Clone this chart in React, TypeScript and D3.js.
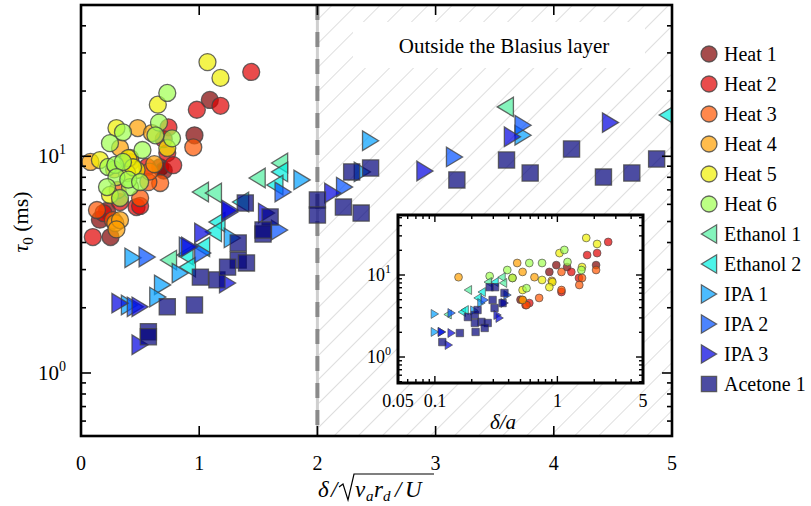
import * as d3 from 'd3';

type Pt = [number, number];

// main plot: x = delta / sqrt(nu_a r_d / U), y = tau_0 (ms)
const heat1: Pt[] = [[0.96, 12.5], [1.09, 18.2], [0.67, 8.9], [0.25, 4.24], [0.16, 5.1], [0.7, 8.6], [0.22, 5.6]];
const heat2: Pt[] = [[1.44, 24.5], [1.18, 17.1], [0.98, 16.4], [0.1, 4.24], [0.74, 13.6], [0.73, 10.35], [0.78, 9.1], [0.56, 8.93], [0.19, 5.47], [0.47, 5.83], [0.33, 6.15], [0.5, 5.9], [0.7, 12.0]];
const heat3: Pt[] = [[0.95, 11.0], [0.67, 7.53], [0.57, 7.6], [0.135, 5.65], [0.27, 5.08], [0.5, 6.42], [0.31, 6.99], [0.42, 9.4], [0.58, 8.5]];
const heat4: Pt[] = [[0.08, 9.42], [0.48, 13.5], [0.6, 12.8], [0.33, 10.92], [0.415, 9.82], [0.29, 4.92], [0.33, 5.08], [0.28, 8.7], [0.62, 9.2], [0.3, 4.6]];
const heat5: Pt[] = [[1.07, 27.2], [1.18, 23], [0.65, 17.3], [0.73, 10.92], [0.3, 13.5], [0.16, 9.61], [0.47, 8.65], [0.39, 8.37], [0.245, 6.63], [0.4, 9.8], [0.44, 8.9]];
const heat6: Pt[] = [[0.73, 19.6], [0.66, 14.3], [0.77, 12.1], [0.355, 12.9], [0.245, 11.5], [0.52, 10.69], [0.63, 12.5], [0.23, 8.93], [0.29, 9.12], [0.355, 9.42], [0.3, 8.02], [0.22, 7.21], [0.415, 7.21], [0.33, 6.42], [0.4, 7.8], [0.5, 7.6]];
const ethanol1: Pt[] = [[1.49, 7.94], [1.68, 9.31], [1.01, 6.84], [1.12, 6.77], [0.74, 3.32], [3.59, 16.9]];
const ethanol2: Pt[] = [[4.96, 15.5], [1.68, 8.47], [1.64, 7.37], [1.15, 4.97], [1.12, 4.48], [0.88, 3.5], [1.02, 3.82], [1.35, 6.15], [0.9, 3.08]];
const ipa1: Pt[] = [[0.44, 3.4], [0.69, 2.55], [0.65, 2.24], [0.41, 2.06], [1.87, 7.78], [0.84, 2.89], [1.28, 4.2], [2.45, 11.8], [2.38, 8.47], [3.74, 12.5]];
const ipa2: Pt[] = [[0.56, 3.43], [0.46, 2.02], [1.68, 4.57], [1.71, 6.84], [2.23, 7.21], [3.16, 9.93], [3.74, 13.9], [1.03, 3.58], [0.9, 3.82]];
const ipa3: Pt[] = [[0.33, 2.1], [0.5, 2.02], [0.5, 1.35], [1.26, 5.53], [1.03, 4.43], [0.92, 3.82], [1.57, 5.47], [1.24, 2.6], [2.13, 6.77], [2.91, 8.55], [4.48, 14.3], [3.65, 12.3], [1.26, 5.65]];
const acetone1: Pt[] = [[0.57, 1.55], [0.57, 1.47], [0.73, 2.02], [0.96, 2.06], [1.01, 2.77], [1.15, 2.69], [1.33, 3.32], [1.4, 3.22], [1.24, 3.08], [1.39, 6.09], [1.54, 4.38], [1.6, 5.25], [1.33, 3.98], [2.0, 6.29], [2.0, 5.36], [1.54, 4.57], [2.29, 8.47], [2.45, 8.83], [2.22, 5.83], [2.37, 5.47], [3.18, 7.78], [3.6, 9.61], [3.8, 8.37], [4.15, 10.8], [4.42, 8.02], [4.66, 8.37], [4.87, 9.72]];

// inset: x = delta / a
const inHeat1: Pt[] = [[2.07, 13.2], [1.2, 12.5], [0.98, 13.2], [0.86, 10.9], [0.5, 5.0]];
const inHeat2: Pt[] = [[2.6, 25.3], [2.11, 18.5], [1.75, 17.5], [1.3, 10.9], [1.08, 6.2], [0.59, 4.55], [1.5, 9.2], [0.55, 4.3]];
const inHeat3: Pt[] = [[2.07, 11.5], [1.59, 9.2], [1.51, 7.55], [1.08, 6.56], [0.71, 5.25], [0.52, 4.96], [0.56, 4.3], [1.08, 10.9]];
const inHeat4: Pt[] = [[0.156, 9.4], [0.47, 14.0], [0.52, 10.9], [0.43, 9.2], [0.65, 9.4], [0.9, 8.5], [0.52, 4.96]];
const inHeat5: Pt[] = [[1.72, 28.3], [2.11, 23.9], [1.04, 18.5], [1.59, 12.5], [0.75, 8.7], [0.91, 8.2], [0.86, 7.1], [0.52, 6.56]];
const inHeat6: Pt[] = [[1.14, 20.2], [1.21, 14.4], [0.59, 14.0], [0.39, 11.5], [0.28, 9.7], [0.75, 14.0], [0.43, 9.2], [0.56, 6.9], [1.57, 11.5]];
const inEthanol1: Pt[] = [[0.127, 3.3], [0.186, 6.56], [0.27, 8.2], [0.35, 9.4], [0.36, 8.0]];
const inEthanol2: Pt[] = [[0.166, 3.54], [0.241, 6.2], [0.223, 5.25], [0.307, 8.2], [0.175, 3.74]];
const inIpa1: Pt[] = [[0.1, 3.35], [0.1, 2.02], [0.24, 4.55], [0.21, 3.7]];
const inIpa2: Pt[] = [[0.137, 3.44], [0.392, 5.7], [0.114, 2.02], [0.255, 4.96]];
const inIpa3: Pt[] = [[0.114, 2.02], [0.137, 1.96], [0.13, 1.4], [0.325, 3.25], [0.338, 2.99], [0.371, 4.55]];
const inAcetone1: Pt[] = [[0.16, 1.96], [0.215, 2.02], [0.115, 1.52], [0.186, 3.07], [0.212, 3.25], [0.24, 2.68], [0.27, 2.6], [0.37, 6.04], [0.31, 7.1], [0.28, 7.1], [0.223, 3.74], [0.296, 4.96], [0.307, 3.96], [0.212, 2.6], [0.255, 2.26], [0.357, 4.55]];

const names = ['Heat 1', 'Heat 2', 'Heat 3', 'Heat 4', 'Heat 5', 'Heat 6', 'Ethanol 1', 'Ethanol 2', 'IPA 1', 'IPA 2', 'IPA 3', 'Acetone 1'];
const colors = ['#800000', '#e00000', '#ff5500', '#ffa000', '#f0f000', '#a0ff50', '#50f0a0', '#00f0e0', '#00a0ff', '#0050ff', '#0000e0', '#00007a'];
const shapes = ['circle', 'circle', 'circle', 'circle', 'circle', 'circle', 'left', 'left', 'right', 'right', 'right', 'square'];
const mainData = [heat1, heat2, heat3, heat4, heat5, heat6, ethanol1, ethanol2, ipa1, ipa2, ipa3, acetone1];
const insetData = [inHeat1, inHeat2, inHeat3, inHeat4, inHeat5, inHeat6, inEthanol1, inEthanol2, inIpa1, inIpa2, inIpa3, inAcetone1];

const xTicks = [0, 1, 2, 3, 4, 5];
const insetXLabels = [0.05, 0.1, 1, 5];

const FONT = '"Liberation Serif", "DejaVu Serif", serif';

function markerPath(shape: string, cx: number, cy: number, s: number) {
  if (shape === 'circle') {
    return `M${cx - s},${cy}a${s},${s} 0 1,0 ${2 * s},0a${s},${s} 0 1,0 ${-2 * s},0Z`;
  }
  if (shape === 'square') {
    const h = s * 0.95;
    return `M${cx - h},${cy - h}h${2 * h}v${2 * h}h${-2 * h}Z`;
  }
  const h = s * 1.15;
  const w = s * 1.9;
  if (shape === 'left') {
    return `M${cx - w * 0.5},${cy}L${cx + w * 0.5},${cy - h}L${cx + w * 0.5},${cy + h}Z`;
  }
  return `M${cx + w * 0.5},${cy}L${cx - w * 0.5},${cy - h}L${cx - w * 0.5},${cy + h}Z`;
}

function logMinor(lo: number, hi: number) {
  const out: number[] = [];
  for (let e = -3; e <= 3; e++) {
    for (let m = 1; m < 10; m++) {
      const v = m * Math.pow(10, e);
      if (v >= lo * 0.999 && v <= hi * 1.001) out.push(v);
    }
  }
  return out;
}

export default function App() {
  const x = d3.scaleLinear().domain([0, 5]).range([81, 672]);
  const y = d3.scaleLog().domain([0.512, 49.9]).range([436, 5]);
  const ix = d3.scaleLog().domain([0.05, 5]).range([398, 643]);
  const iy = d3.scaleLog().domain([0.482, 53.9]).range([383, 215]);

  const yMinor = logMinor(0.512, 49.9);
  const iyMinor = logMinor(0.482, 53.9);
  const ixMinor = logMinor(0.05, 5);
  const isMajor = (v: number) => Math.abs(Math.log10(v) - Math.round(Math.log10(v))) < 1e-6;

  const x2 = x(2);

  return (
    <svg width={811} height={506} style={{ position: 'absolute', left: 0, top: 0 }} fontFamily={FONT}>
      <defs>
        <pattern id="hatch" width={17} height={17} patternUnits="userSpaceOnUse" patternTransform="rotate(45)">
          <line x1={0} y1={0} x2={0} y2={17} stroke="#d6d6d6" strokeWidth={1.6} />
        </pattern>
        <clipPath id="plotClip">
          <rect x={81} y={5} width={591} height={431} />
        </clipPath>
      </defs>
      <rect width={811} height={506} fill="#fff" />

      {/* hatched region outside Blasius layer */}
      <rect x={x2} y={5} width={x(5) - x2} height={431} fill="url(#hatch)" />
      <line x1={x2} x2={x2} y1={5} y2={436} stroke="#cfcfcf" strokeWidth={3} />
      <line x1={x2} x2={x2} y1={5} y2={436} stroke="#8a8a8a" strokeWidth={4} strokeDasharray="15,12" />

      <rect x={353} y={22} width={292} height={46} fill="#fff" />
      <text x={504} y={53} fontSize={21} textAnchor="middle">Outside the Blasius layer</text>

      {/* main scatter */}
      <g clipPath="url(#plotClip)">
        {mainData.map((ser, si) => (
          <g key={si}>
            {ser.map((d, i) => (
              <path key={i} d={markerPath(shapes[si], x(d[0]), y(d[1]), 8.5)} fill={colors[si]} fillOpacity={0.7} stroke="#444" strokeOpacity={0.8} strokeWidth={1.3} />
            ))}
          </g>
        ))}
      </g>

      {/* main frame + ticks */}
      <rect x={81} y={5} width={591} height={431} fill="none" stroke="#000" strokeWidth={2.6} />
      {xTicks.slice(1, -1).map((t) => (
        <g key={t}>
          <line x1={x(t)} x2={x(t)} y1={436} y2={426} stroke="#000" strokeWidth={1.6} />
          <line x1={x(t)} x2={x(t)} y1={5} y2={15} stroke="#000" strokeWidth={1.6} />
        </g>
      ))}
      {xTicks.map((t) => (
        <text key={t} x={x(t)} y={470} fontSize={20} textAnchor="middle">{t}</text>
      ))}
      {yMinor.map((v) => {
        const len = isMajor(v) ? 10 : 5;
        return (
          <g key={v}>
            <line x1={81} x2={81 + len} y1={y(v)} y2={y(v)} stroke="#000" strokeWidth={1.6} />
            <line x1={672} x2={672 - len} y1={y(v)} y2={y(v)} stroke="#000" strokeWidth={1.6} />
          </g>
        );
      })}
      {[1, 10].map((v) => (
        <text key={v} x={66} y={y(v) + 7} fontSize={21} textAnchor="end">
          10<tspan dy={-9} fontSize={14}>{Math.round(Math.log10(v))}</tspan>
        </text>
      ))}

      {/* axis titles */}
      <text transform="translate(28,222) rotate(-90)" fontSize={22} textAnchor="middle">
        <tspan fontStyle="italic">τ</tspan><tspan fontSize={15} dy={5}>0</tspan><tspan dy={-5}> (ms)</tspan>
      </text>
      <g fontSize={23} fontStyle="italic">
        <text x={318} y={497}>δ</text>
        <text x={331} y={497}>/</text>
        <path d="M339,487 L343,484 L348,500 L354,474 L434,474" fill="none" stroke="#000" strokeWidth={1.2} />
        <text x={355} y={497}>ν</text>
        <text x={366} y={501} fontSize={15}>a</text>
        <text x={374} y={497}>r</text>
        <text x={383} y={501} fontSize={15}>d</text>
        <text x={395} y={497}>/</text>
        <text x={405} y={497}>U</text>
      </g>

      {/* inset */}
      <rect x={398} y={215} width={245} height={168} fill="#fff" />
      {insetData.map((ser, si) => (
        <g key={si}>
          {ser.map((d, i) => (
            <path key={i} d={markerPath(shapes[si], ix(d[0]), iy(d[1]), 3.9)} fill={colors[si]} fillOpacity={0.7} stroke="#444" strokeOpacity={0.8} strokeWidth={0.8} />
          ))}
        </g>
      ))}
      <rect x={398} y={215} width={245} height={168} fill="none" stroke="#000" strokeWidth={3} />
      {ixMinor.map((v) => {
        const len = isMajor(v) ? 7 : 4;
        return (
          <g key={v}>
            <line x1={ix(v)} x2={ix(v)} y1={383} y2={383 - len} stroke="#000" strokeWidth={1.4} />
            <line x1={ix(v)} x2={ix(v)} y1={215} y2={215 + len} stroke="#000" strokeWidth={1.4} />
          </g>
        );
      })}
      {iyMinor.map((v) => {
        const len = isMajor(v) ? 7 : 4;
        return (
          <g key={v}>
            <line x1={398} x2={398 + len} y1={iy(v)} y2={iy(v)} stroke="#000" strokeWidth={1.4} />
            <line x1={643} x2={643 - len} y1={iy(v)} y2={iy(v)} stroke="#000" strokeWidth={1.4} />
          </g>
        );
      })}
      {insetXLabels.map((v) => (
        <text key={v} x={ix(v)} y={407} fontSize={18} textAnchor="middle">{v}</text>
      ))}
      {[1, 10].map((v) => (
        <text key={v} x={391} y={iy(v) + 6} fontSize={18} textAnchor="end">
          10<tspan dy={-8} fontSize={12}>{Math.round(Math.log10(v))}</tspan>
        </text>
      ))}
      <text x={503} y={429} fontSize={21} fontStyle="italic" textAnchor="middle">δ/a</text>

      {/* legend */}
      {names.map((n, i) => {
        const ly = 54 + i * 30;
        return (
          <g key={n}>
            <path d={markerPath(shapes[i], 709, ly, 8)} fill={colors[i]} fillOpacity={0.7} stroke="#444" strokeOpacity={0.8} strokeWidth={1.3} />
            <text x={724} y={ly + 7} fontSize={20}>{n}</text>
          </g>
        );
      })}
    </svg>
  );
}
